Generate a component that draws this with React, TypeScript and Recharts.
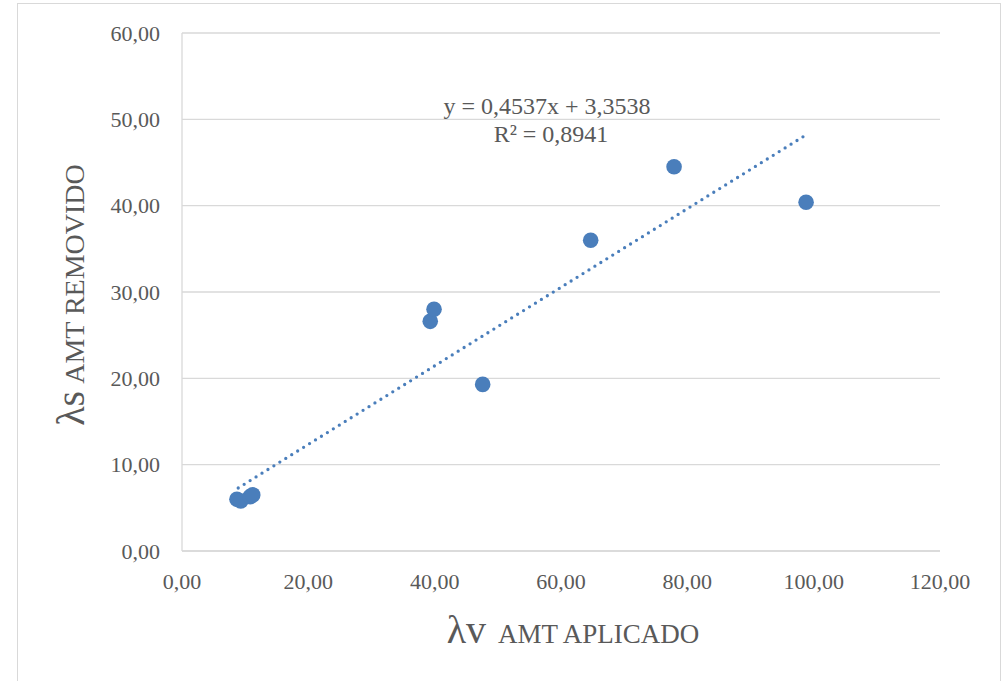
import { ScatterChart, Scatter, XAxis, YAxis, CartesianGrid } from 'recharts';

const aplicado = [8.7, 9.3, 10.8, 11.2, 39.3, 39.9, 47.6, 64.7, 77.9, 98.8];
const removido = [6.0, 5.8, 6.3, 6.5, 26.6, 28.0, 19.3, 36.0, 44.5, 40.4];

// linear trendline endpoints
const trendX = [8.9, 98.8];
const trendY = [7.3, 48.2];

const xTicks = [0, 20, 40, 60, 80, 100, 120];
const yTicks = [0, 10, 20, 30, 40, 50, 60];

const points = aplicado.map((x, i) => ({ x, y: removido[i] }));
const trend = trendX.map((x, i) => ({ x, y: trendY[i] }));

const FONT = '"Liberation Serif", "Times New Roman", serif';
const TEXT = '#595959';
const BLUE = '#4A7EBB';

const fmt = (v: number) => v.toFixed(2).replace('.', ',');

const Dot = (props: any) => <circle cx={props.cx} cy={props.cy} r={7.8} fill={BLUE} />;
const NoDot = () => <g />;

export default function App() {
    return (
        <div style={{ position: 'absolute', left: 0, top: 0, width: 1007, height: 681, background: '#fff', fontFamily: FONT, overflow: 'hidden' }}>
            <div style={{ position: 'absolute', left: 17, top: 3, width: 982, height: 700, border: '1px solid #d9d9d9' }} />
            <div style={{ position: 'absolute', left: 0, top: 0 }}>
                <ScatterChart width={1007} height={681} margin={{ top: 33, right: 67, bottom: 80, left: 0 }}>
                    <CartesianGrid vertical={false} stroke="#d9d9d9" strokeWidth={1.3} />
                    <XAxis
                        type="number"
                        dataKey="x"
                        domain={[0, 120]}
                        ticks={xTicks}
                        tickFormatter={fmt}
                        height={50}
                        tickLine={false}
                        axisLine={{ stroke: '#d9d9d9', strokeWidth: 1.3 }}
                        tick={{ fontSize: 22, fill: TEXT, fontFamily: FONT }}
                        tickMargin={16}
                    />
                    <YAxis
                        type="number"
                        dataKey="y"
                        domain={[0, 60]}
                        ticks={yTicks}
                        tickFormatter={fmt}
                        width={182}
                        tickLine={false}
                        axisLine={{ stroke: '#d9d9d9', strokeWidth: 1.3 }}
                        tick={{ fontSize: 22, fill: TEXT, fontFamily: FONT }}
                        tickMargin={16}
                    />
                    <Scatter
                        data={trend}
                        line={{ stroke: BLUE, strokeWidth: 3.3, strokeDasharray: '0 7', strokeLinecap: 'round' }}
                        shape={NoDot}
                        isAnimationActive={false}
                    />
                    <Scatter data={points} shape={Dot} isAnimationActive={false} />
                </ScatterChart>
            </div>
            <div style={{ position: 'absolute', left: 397, top: 92, width: 300, textAlign: 'center', fontSize: 24, color: TEXT, lineHeight: '28px' }}>
                <div>y = 0,4537x + 3,3538</div>
                <div style={{ paddingLeft: 8 }}>R² = 0,8941</div>
            </div>
            <div style={{ position: 'absolute', left: 298, top: 606, width: 550, textAlign: 'center', color: TEXT, whiteSpace: 'nowrap' }}>
                <span style={{ fontSize: 40 }}>λv</span>
                <span style={{ fontSize: 27 }}>&nbsp; AMT APLICADO</span>
            </div>
            <div style={{ position: 'absolute', left: 71, top: 295, width: 0, height: 0 }}>
                <div style={{ position: 'absolute', left: -200, top: -25, width: 400, textAlign: 'center', color: TEXT, whiteSpace: 'nowrap', transform: 'rotate(-90deg)', transformOrigin: '200px 25px', lineHeight: '50px' }}>
                    <span style={{ fontSize: 40 }}>λs</span>
                    <span style={{ fontSize: 28 }}>&nbsp;AMT REMOVIDO</span>
                </div>
            </div>
        </div>
    );
}
